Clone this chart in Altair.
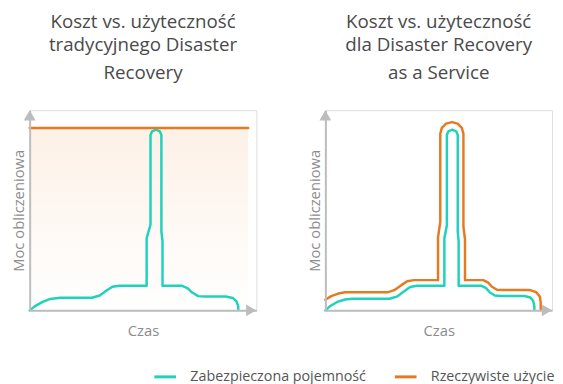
import altair as alt
import pandas as pd

TEAL_NAME = "Zabezpieczona pojemność"
ORANGE_NAME = "Rzeczywiste użycie"
TEAL = "#1fd2bc"
ORANGE = "#e67a22"
AXIS_GRAY = "#bdbdbd"
FONT = "Open Sans"

left_title = ["Koszt vs. użyteczność", "tradycyjnego Disaster", "Recovery"]
right_title = ["Koszt vs. użyteczność", "dla Disaster Recovery", "as a Service"]
x_title = "Czas"
y_title = "Moc obliczeniowa"

# left panel: provisioned capacity (teal) and actual usage (flat orange)
left_teal_t = [0, 2.2, 5.7, 9.1, 13.5, 27.4, 30.9, 33.9, 36.5, 39.6, 51.6, 51.6, 53.3, 53.3,
               54.0, 55.7, 57.4, 58.1, 58.1, 58.6, 58.6, 67.0, 69.6, 71.7, 74.3, 77.0, 86.5,
               89.6, 91.3, 92.0, 92.0]
left_teal_v = [0, 2.0, 4.2, 5.7, 6.3, 6.3, 7.4, 9.9, 11.8, 12.3, 12.3, 36.0, 42.9, 87.6,
               89.5, 90.3, 89.5, 87.6, 39.4, 34.5, 12.3, 12.3, 11.1, 8.9, 7.1, 6.9, 6.9,
               6.2, 4.4, 2.0, 0.5]
left_orange_t = [0, 96.4]
left_orange_v = [91.1, 91.1]

# right panel
right_teal_t = [0, 2.2, 5.2, 8.7, 12.2, 28.3, 31.7, 34.8, 37.4, 40.4, 52.5, 52.5, 53.6, 53.6,
                54.3, 56.0, 57.7, 58.4, 58.4, 58.8, 58.8, 68.7, 70.9, 72.6, 74.8, 77.4, 87.8,
                90.4, 91.7, 92.2, 92.2]
right_teal_v = [0, 2.2, 4.2, 5.4, 5.8, 5.8, 6.9, 9.6, 11.7, 12.3, 12.3, 36.0, 42.4, 87.6,
                89.5, 90.3, 89.5, 87.6, 39.4, 34.5, 12.3, 12.3, 11.1, 8.9, 7.4, 7.2, 7.2,
                6.4, 4.7, 2.0, 0.5]
right_orange_t = [0, 2.6, 5.7, 8.7, 27.4, 30.4, 33.5, 36.1, 39.1, 49.7, 49.7, 50.7, 50.7,
                  51.4, 53.25, 55.8, 58.35, 60.2, 60.9, 60.9, 61.6, 61.6, 69.6, 71.7, 73.5,
                  75.7, 78.3, 90.0, 93.0, 94.6, 95.0, 95.0]
right_orange_v = [5.3, 7.1, 8.4, 9.0, 9.0, 10.1, 12.6, 14.5, 15.1, 15.1, 36.5, 44.3, 88.3,
                  91.2, 93.3, 94.1, 93.3, 91.2, 88.3, 41.9, 35.5, 15.1, 15.1, 14.0, 11.8,
                  10.3, 10.2, 10.2, 9.1, 6.9, 3.9, 0.5]

# axis arrow heads (data units)
arrow_t = [0, 97.74]
arrow_v = [97.44, 0]
arrow_shape = ["triangle-up", "triangle-right"]


def series_df(t, v, name):
    return pd.DataFrame({"t": t, "v": v, "series": name, "i": range(len(t))})


X = alt.X("t:Q", scale=alt.Scale(domain=[0, 100], nice=False, zero=False),
          axis=alt.Axis(title=x_title, domain=True, domainColor=AXIS_GRAY, domainWidth=2,
                        ticks=False, labels=False, grid=False, zindex=1,
                        titleFont=FONT, titleFontSize=15, titleFontWeight="normal",
                        titleColor="#8c8c8c", titlePadding=14))
Y = alt.Y("v:Q", scale=alt.Scale(domain=[0, 100], nice=False, zero=False),
          axis=alt.Axis(title=y_title, domain=True, domainColor=AXIS_GRAY, domainWidth=2,
                        ticks=False, labels=False, grid=False, zindex=1,
                        titleFont=FONT, titleFontSize=15, titleFontWeight="normal",
                        titleColor="#8c8c8c", titlePadding=3))

COLOR = alt.Color("series:N",
                  scale=alt.Scale(domain=[TEAL_NAME, ORANGE_NAME], range=[TEAL, ORANGE]),
                  legend=alt.Legend(title=None, orient="none", legendX=125, legendY=258,
                                    direction="horizontal", symbolType="stroke",
                                    symbolSize=484, symbolStrokeWidth=3, labelLimit=0,
                                    labelFont=FONT, labelFontSize=14.5, labelColor="#555555",
                                    columnPadding=22, labelOffset=13))


def panel(lines, title, fill=None):
    layers = []
    if fill is not None:
        layers.append(
            alt.Chart(fill).mark_rect(
                color=alt.Gradient(gradient="linear",
                                   stops=[alt.GradientStop(color="#fdf1e7", offset=0),
                                          alt.GradientStop(color="#ffffff", offset=1)],
                                   x1=0, x2=0, y1=0, y2=1)
            ).encode(x=X, x2="t2:Q", y=Y, y2="v2:Q")
        )
    layers.append(
        alt.Chart(lines).mark_line(strokeWidth=2.5, strokeJoin="round", strokeCap="round")
        .encode(x=X, y=Y, color=COLOR, detail="series:N", order="i:Q")
    )
    arrows = pd.DataFrame({"t": arrow_t, "v": arrow_v, "shape": arrow_shape})
    layers.append(
        alt.Chart(arrows).mark_point(filled=True, size=144, color=AXIS_GRAY, opacity=1)
        .encode(x=X, y=Y, shape=alt.Shape("shape:N", scale=None))
    )
    return alt.layer(*layers).properties(
        width=230, height=203,
        title=alt.TitleParams(text=title[0], subtitle=title[1:],
                              font=FONT, fontSize=19, fontWeight="normal", color="#4a4a4a",
                              subtitleFont=FONT, subtitleFontSize=19,
                              subtitleFontWeight="normal", subtitleColor="#4a4a4a",
                              subtitleLineHeight=28.5, subtitlePadding=4.5,
                              anchor="middle", frame="group", offset=27.5)
    )


left_lines = pd.concat([series_df(left_teal_t, left_teal_v, TEAL_NAME),
                        series_df(left_orange_t, left_orange_v, ORANGE_NAME)])
left_fill = pd.DataFrame({"t": [left_orange_t[0]], "t2": [left_orange_t[1]],
                          "v": [left_orange_v[0]], "v2": [0]})
right_lines = pd.concat([series_df(right_teal_t, right_teal_v, TEAL_NAME),
                         series_df(right_orange_t, right_orange_v, ORANGE_NAME)])

chart = alt.hconcat(
    panel(left_lines, left_title, left_fill),
    panel(right_lines, right_title),
    spacing=50,
).properties(padding={"left": 3, "top": 2, "right": 0, "bottom": 0}
).configure_view(stroke=None).configure(background="white")

chart.save("out.html", embed_options={"renderer": "svg", "actions": False})
